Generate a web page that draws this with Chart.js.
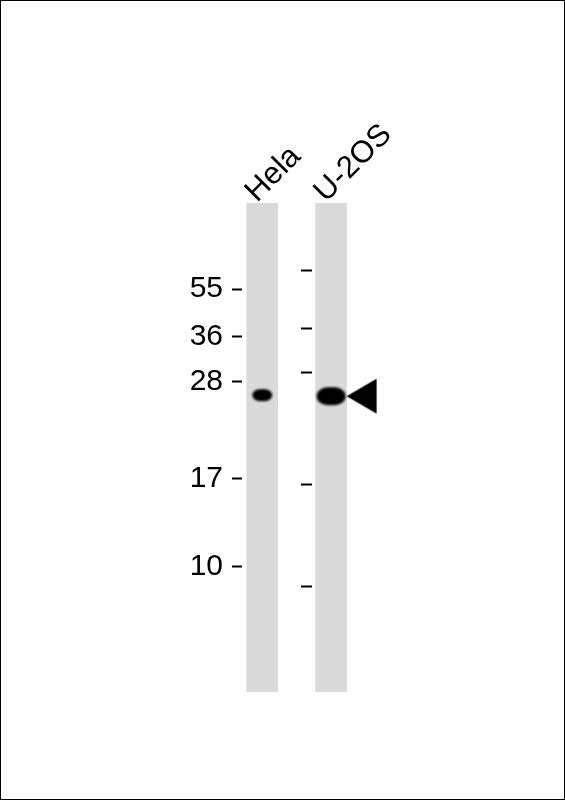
<!DOCTYPE html>
<html>
<head>
<meta charset="utf-8">
<script src="https://cdn.jsdelivr.net/npm/chart.js@4.4.1/dist/chart.umd.min.js"></script>
<style>
html,body{margin:0;padding:0;background:#fff;}
canvas{display:block;}
</style>
</head>
<body>
<canvas id="blot" width="565" height="800"></canvas>
<script>
// ---- data (relative migration = % of lane length from the well) ----
const lanes = ['Hela', 'U-2OS'];
const markerLabels = ['55', '36', '28', '17', '10'];
const markerRf = [17.6, 27.4, 36.5, 56.3, 74.4];
const ladderRf = [13.9, 25.7, 34.7, 57.5, 78.4];
const bandRf = [39.3, 39.5];
const targetLane = 2; // lane index (1-based) marked with the arrow

// ---- styles ----
const FONT = "'Liberation Sans', Arial, Helvetica, sans-serif";
const laneColor = '#dadada';
const bandStyle = [{w: 20, h: 12, blur: 1.2}, {w: 29, h: 18, blur: 1.3}];

function bandImage(s) {
  const pad = Math.ceil(s.blur * 3) + 2;
  const c = document.createElement('canvas');
  c.width = s.w + 2 * pad; c.height = s.h + 2 * pad;
  const g = c.getContext('2d');
  g.filter = 'blur(' + s.blur + 'px)';
  g.fillStyle = '#000';
  g.beginPath();
  g.roundRect(pad, pad, s.w, s.h, [{x: s.w * 0.38, y: s.h * 0.5}]);
  g.fill();
  return c;
}
function arrowImage(gap, w, h) {
  const c = document.createElement('canvas');
  c.width = 2 * (gap + w) + 2; c.height = h + 2;
  const g = c.getContext('2d');
  const cx = c.width / 2, cy = c.height / 2;
  g.fillStyle = '#000';
  g.beginPath();
  g.moveTo(cx + gap, cy);
  g.lineTo(cx + gap + w, cy - h / 2);
  g.lineTo(cx + gap + w, cy + h / 2);
  g.closePath();
  g.fill();
  return c;
}

const laneData = lanes.map((_, i) => ({x: i + 1, y: [0, 100]}));
const bandData = bandRf.map((v, i) => ({x: i + 1, y: v}));
const arrowData = [{x: targetLane, y: bandRf[targetLane - 1]}];

const frame = {
  id: 'frame',
  afterDraw(chart) {
    const ctx = chart.ctx;
    ctx.save();
    ctx.strokeStyle = '#000';
    ctx.lineWidth = 1;
    ctx.strokeRect(0.5, 0.5, chart.width - 1, chart.height - 1);
    ctx.restore();
  }
};

new Chart(document.getElementById('blot'), {
  type: 'bar',
  data: {
    datasets: [
      {
        type: 'scatter', label: 'bands', data: bandData, order: 1,
        pointStyle: bandStyle.map(bandImage), pointRadius: 5, clip: false
      },
      {
        type: 'scatter', label: 'arrow', data: arrowData, order: 2,
        pointStyle: arrowImage(15.5, 30, 35), pointRadius: 5, clip: false
      },
      {
        type: 'bar', label: 'lanes', data: laneData, order: 3,
        backgroundColor: laneColor, borderWidth: 0, barThickness: 31
      }
    ]
  },
  options: {
    responsive: false,
    animation: false,
    events: [],
    layout: {padding: {left: 0, top: 0, right: 186, bottom: 108}},
    plugins: {legend: {display: false}, tooltip: {enabled: false}},
    scales: {
      x: {
        type: 'linear', position: 'top', min: 0.707, max: 2.695, offset: false,
        afterBuildTicks: s => { s.ticks = lanes.map((_, i) => ({value: i + 1})); },
        afterFit: s => { s.height = 203; },
        grid: {display: false, offset: false},
        border: {display: false},
        ticks: {
          autoSkip: false, minRotation: 45, maxRotation: 45,
          padding: -15, labelOffset: 15,
          color: '#000', font: {family: FONT, size: 31},
          callback: (v, i) => lanes[i]
        }
      },
      y: {
        type: 'linear', position: 'left', reverse: true, min: 0, max: 100,
        afterBuildTicks: s => { s.ticks = markerRf.map(v => ({value: v})); },
        afterFit: s => { s.width = 242; },
        grid: {drawOnChartArea: false, drawTicks: true, tickLength: 10, tickWidth: 2, tickColor: '#000'},
        border: {display: false},
        ticks: {
          autoSkip: false, padding: 9,
          color: '#000', font: {family: FONT, size: 30},
          callback: (v, i) => markerLabels[i]
        }
      },
      ladder: {
        type: 'linear', axis: 'y', position: {x: 1.72}, reverse: true, min: 0, max: 100,
        afterBuildTicks: s => { s.ticks = ladderRf.map(v => ({value: v})); },
        afterFit: s => { s.width = 0; },
        grid: {drawOnChartArea: false, drawTicks: true, tickLength: 11, tickWidth: 2, tickColor: '#000'},
        border: {display: false},
        ticks: {display: false, autoSkip: false}
      }
    }
  },
  plugins: [frame]
});
</script>
</body>
</html>
